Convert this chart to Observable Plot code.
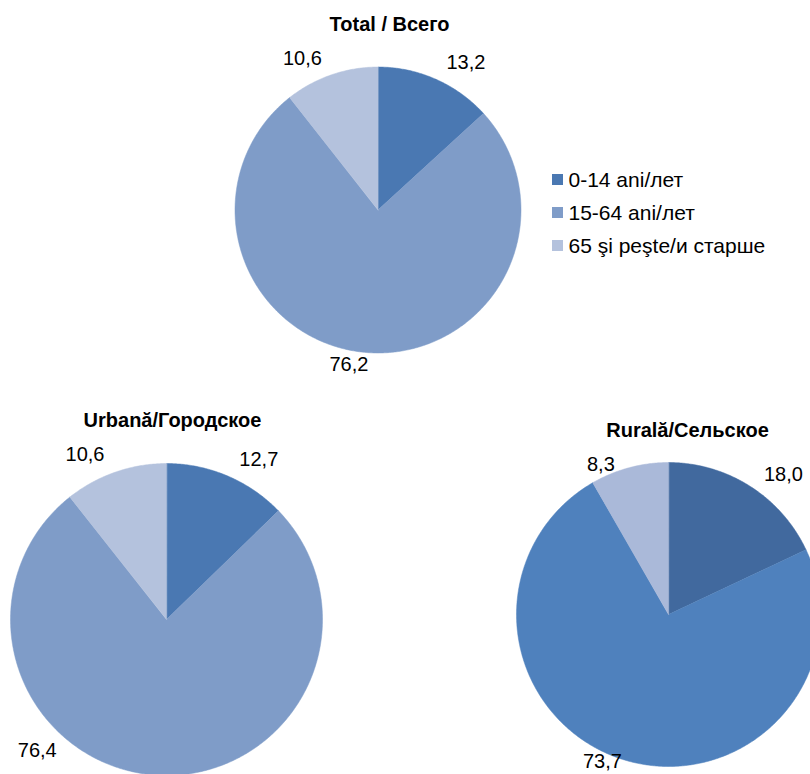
<!DOCTYPE html>
<html><head><meta charset="utf-8">
<script src="https://cdn.jsdelivr.net/npm/d3@7"></script>
<script src="https://cdn.jsdelivr.net/npm/@observablehq/plot@0.6"></script>
<style>body{margin:0;background:#fff}</style>
</head><body><div id="chart"></div>
<script>
const groups = ["Total / Всего", "Urbană/Городское", "Rurală/Сельское"];
const categories = ["0-14 ani/лет", "15-64 ani/лет", "65 şi peşte/и старше"];
const totalValues = [13.2, 76.2, 10.6];
const urbanValues = [12.7, 76.4, 10.6];
const ruralValues = [18.0, 73.7, 8.3];
const mainColors = ["#4A78B2", "#7F9CC8", "#B4C2DD"];
const ruralColors = ["#41699E", "#4F81BD", "#AAB9D9"];

const W = 810, H = 774;
const layout = [
  {cx: 377.5, cy: 209.5, r: 143, tx: 389, ty: 24, colors: mainColors},
  {cx: 166, cy: 619, r: 156, tx: 172, ty: 420, colors: mainColors},
  {cx: 668, cy: 614, r: 152, tx: 687, ty: 430, colors: ruralColors}
];
const seriesValues = [totalValues, urbanValues, ruralValues];
const fmt = v => v.toFixed(1).replace(".", ",");
const rad = Math.PI / 180;

const slices = [], labels = [], titles = [];
seriesValues.forEach((vals, g) => {
  const L = layout[g];
  titles.push({x: L.tx, y: L.ty, text: groups[g]});
  const titleHalf = groups[g].length * 5.5;
  const arcs = d3.pie().sort(null).value(d => d)(vals);
  arcs.forEach((a, i) => {
    const id = g * 10 + i;
    const n = Math.max(2, Math.ceil((a.endAngle - a.startAngle) / (0.5 * rad)));
    slices.push({id, x: L.cx, y: L.cy, fill: L.colors[i]});
    for (let k = 0; k <= n; k++) {
      const t = a.startAngle + (a.endAngle - a.startAngle) * k / n;
      slices.push({id, x: L.cx + L.r * Math.sin(t), y: L.cy - L.r * Math.cos(t), fill: L.colors[i]});
    }
    const mid = (a.startAngle + a.endAngle) / 2;
    const top = Math.cos(mid) > 0;
    const side = Math.sin(mid) >= 0 ? 1 : -1;
    let ang = mid + (top ? side * 7 : -side * 6) * rad;
    let d = L.r + (top ? 29 : 14);
    let lx = L.cx + d * Math.sin(ang), ly = L.cy - d * Math.cos(ang);
    if (ly > H) {
      d = L.r + 28;
      const c0 = -(H - 24 - L.cy) / d;
      ang = side < 0 ? 2 * Math.PI - Math.acos(c0) : Math.acos(c0);
      lx = L.cx + d * Math.sin(ang); ly = L.cy - d * Math.cos(ang);
    }
    ly = Math.min(ly, H - 13);
    // keep clear of the pie title
    if (top && Math.abs(lx - L.tx) < titleHalf + 20) ly = Math.max(ly, L.ty + 34);
    labels.push({x: lx, y: ly, text: fmt(a.data)});
  });
});

const legend = categories.map((c, i) => ({
  label: c, fill: mainColors[i],
  x1: 552, x2: 563, y1: 174 + i * 33, y2: 185 + i * 33,
  tx: 568, y: 180 + i * 33
}));

const chart = Plot.plot({
  width: W, height: H, margin: 0,
  x: {domain: [0, W], range: [0, W], axis: null},
  y: {domain: [0, H], range: [0, H], axis: null},
  color: {type: "identity"},
  style: {fontFamily: "'Liberation Sans', Arial, sans-serif", background: "#fff"},
  marks: [
    Plot.line(slices, {x: "x", y: "y", z: "id", fill: "fill", stroke: "fill", strokeWidth: 0.5, curve: "linear-closed"}),
    Plot.text(labels, {x: "x", y: "y", text: "text", fontSize: 20, fill: "#000"}),
    Plot.text(titles, {x: "x", y: "y", text: "text", fontSize: 20, fontWeight: "bold", fill: "#000"}),
    Plot.rect(legend, {x1: "x1", x2: "x2", y1: "y1", y2: "y2", fill: "fill"}),
    Plot.text(legend, {x: "tx", y: "y", text: "label", textAnchor: "start", fontSize: 21, fill: "#000"})
  ]
});
document.getElementById("chart").appendChild(chart);
</script>
</body></html>
